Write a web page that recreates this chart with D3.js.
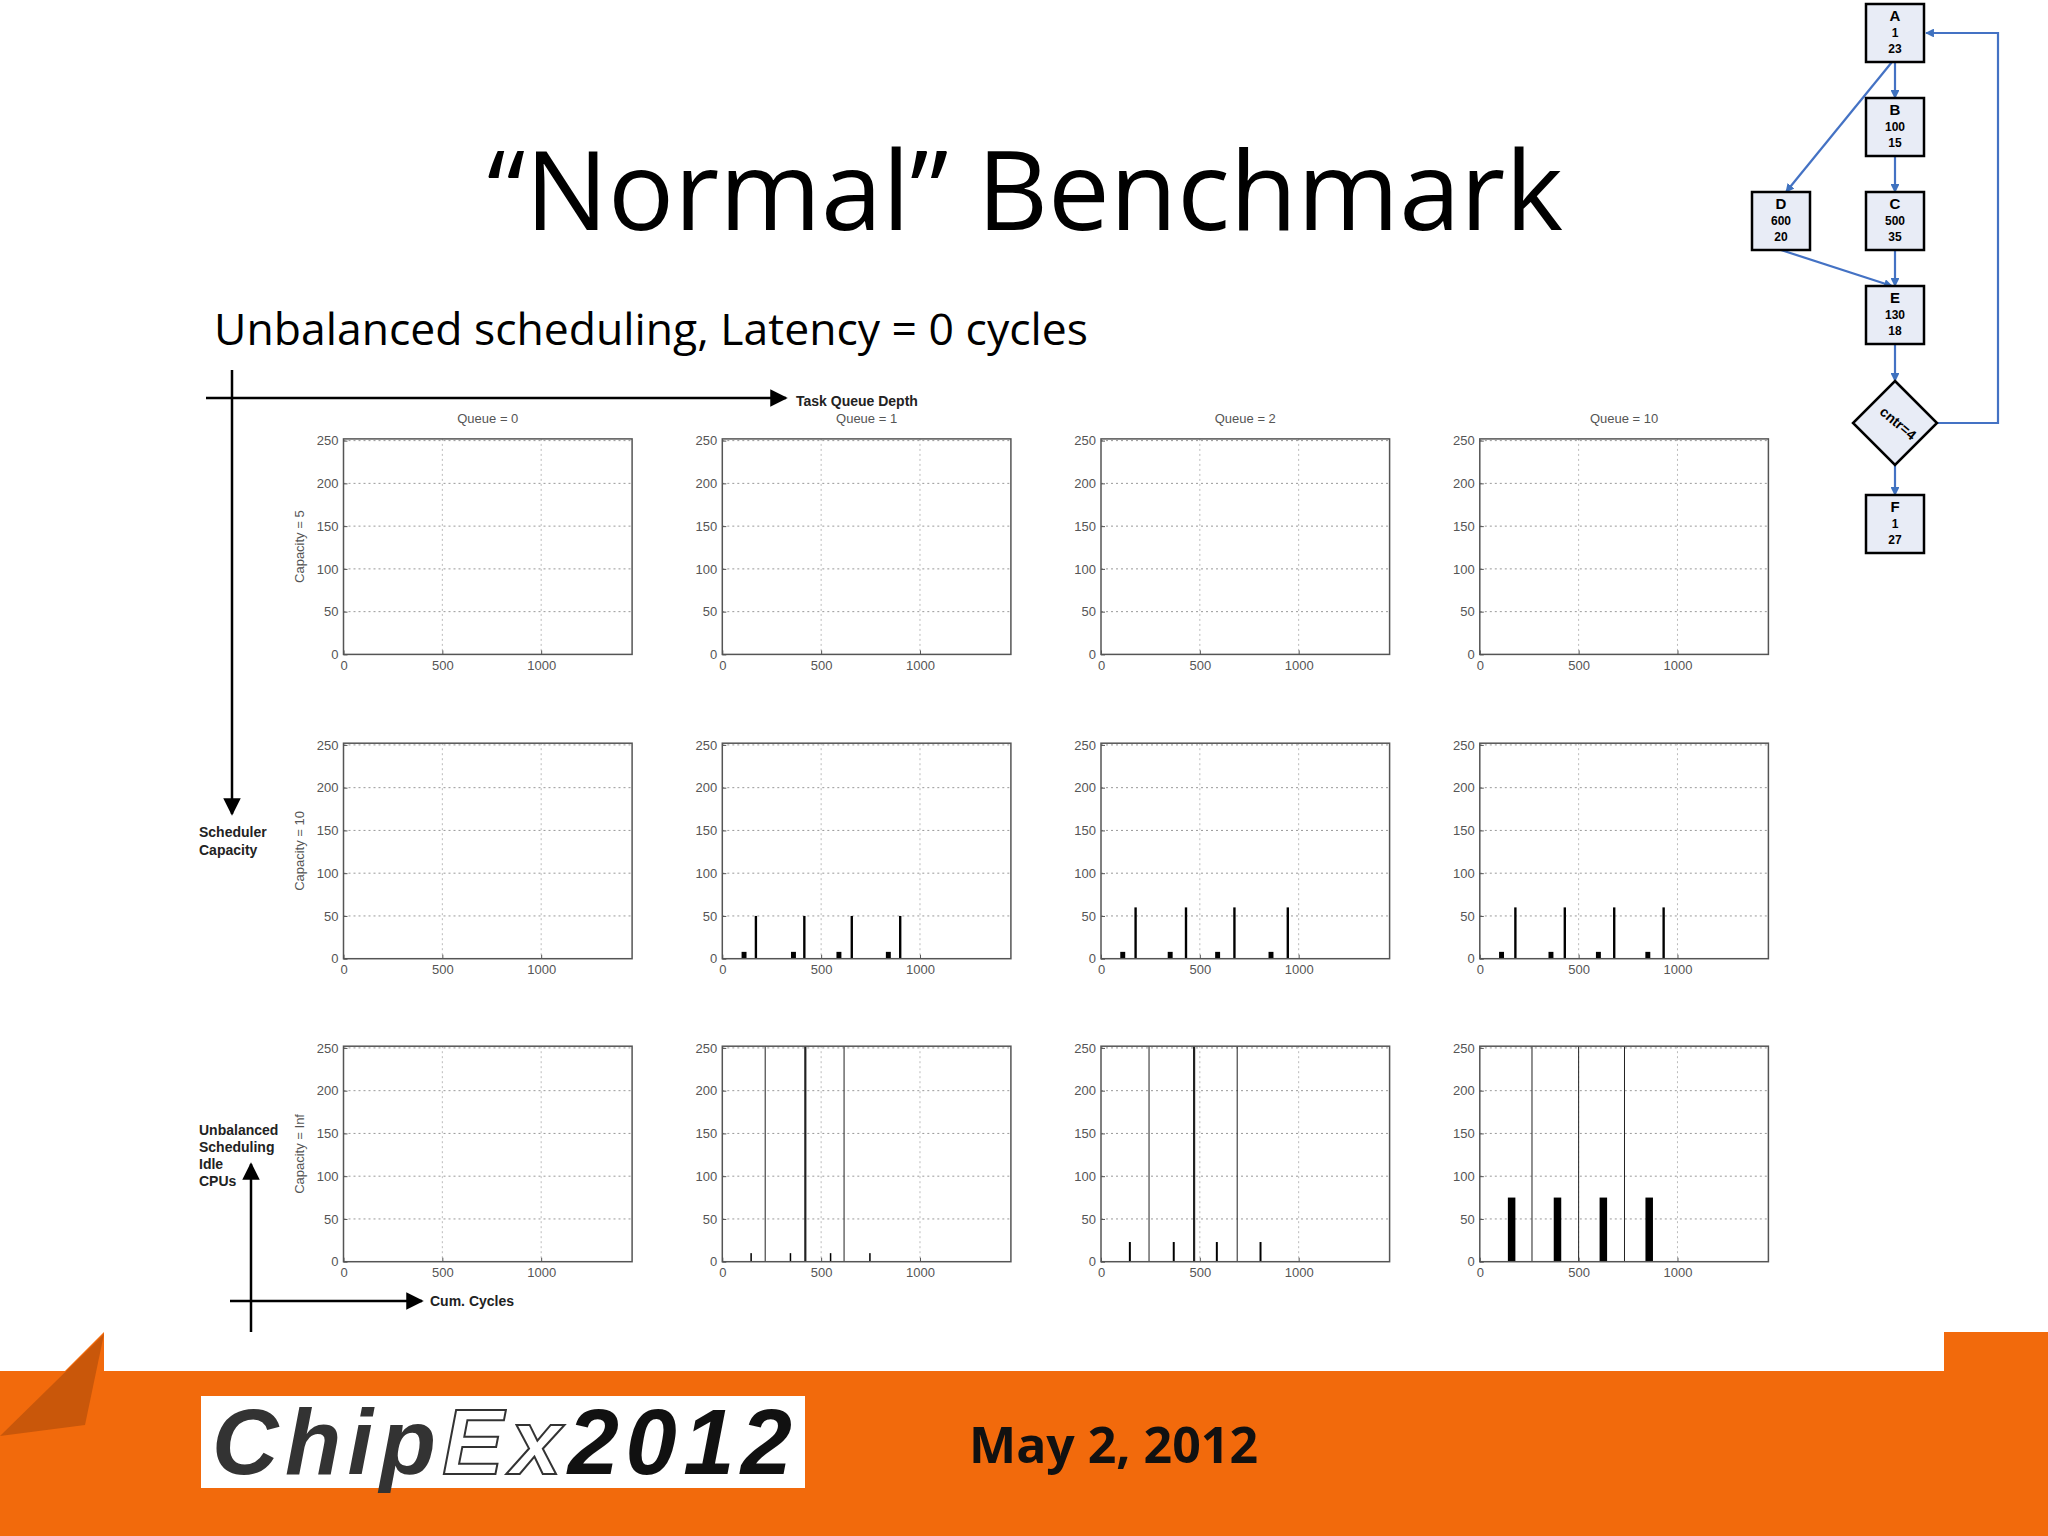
<!DOCTYPE html>
<html><head><meta charset="utf-8">
<script src="https://cdn.jsdelivr.net/npm/d3@7"></script>
<style>body{margin:0;background:#fff}svg{display:block}</style>
</head><body>
<svg id="c" width="2048" height="1536"></svg>
<script>
const queueLabels = ["Queue = 0","Queue = 1","Queue = 2","Queue = 10"];
const capacityLabels = ["Capacity = 5","Capacity = 10","Capacity = Inf"];
const xTicks = [0,500,1000];
const yTicks = [0,50,100,150,200,250];
// spikes: [x, height, width] per panel (row, col)
const cap10q1 = [[110,8,25],[170,50,12],[360,8,25],[415,50,12],[590,8,25],[655,50,12],[840,8,25],[900,50,12]];
const cap10q2 = [[110,8,25],[175,60,12],[350,8,25],[430,60,12],[590,8,25],[675,60,12],[860,8,25],[945,60,12]];
const cap10q10 = [[110,8,25],[180,60,12],[360,8,25],[430,60,12],[600,8,25],[680,60,12],[850,8,25],[930,60,12]];
const infq1 = [[145,10,6],[344,10,6],[547,10,6],[746,10,6]];
const infq2 = [[146,23,10],[368,23,10],[586,23,10],[807,23,10]];
const infq10 = [[161,75,38],[393,75,38],[625,75,38],[857,75,38]];
const infq1Lines = [[217,1],[420,2.2],[616,1]];
const infq2Lines = [[243,1],[471,2.2],[689,1]];
const infq10Lines = [[264,1],[500,1],[732,1]];
const panelSpikes = [[[],[],[],[]],[[],cap10q1,cap10q2,cap10q10],[[],infq1,infq2,infq10]];
const panelLines = [[[],[],[],[]],[[],[],[],[]],[[],infq1Lines,infq2Lines,infq10Lines]];
const flowNodes = [["A","1","23"],["B","100","15"],["C","500","35"],["D","600","20"],["E","130","18"],["F","1","27"]];

const svg = d3.select("#c");

// footer
svg.append("rect").attr("x",0).attr("y",1371).attr("width",2048).attr("height",165).attr("fill","#f26a0c");
svg.append("rect").attr("x",1944).attr("y",1332).attr("width",104).attr("height",40).attr("fill","#f26a0c");
svg.append("path").attr("d","M0,1436 L104,1332 L104,1371 Z").attr("fill","#f26a0c");
svg.append("path").attr("d","M0,1436 L85,1425 L104,1334 Z").attr("fill","#c9570a");
// logo
svg.append("rect").attr("x",201).attr("y",1396).attr("width",604).attr("height",92).attr("fill","#fff");
const lg = svg.append("text").attr("x",212).attr("y",1474).attr("font-family","Liberation Sans, Arial").attr("font-weight","bold").attr("font-style","italic").attr("font-size",92).attr("textLength",580);
lg.append("tspan").attr("fill","#333").text("Chip");
lg.append("tspan").attr("fill","#fff").attr("stroke","#333").attr("stroke-width",2).text("Ex");
lg.append("tspan").attr("fill","#111").text("2012");
svg.append("text").attr("x",969).attr("y",1463).attr("font-family","Open Sans, Lato, sans-serif").attr("font-weight","bold").attr("font-size",50).attr("fill","#111").text("May 2, 2012");

// title
svg.append("text").attr("x",1025).attr("y",230).attr("text-anchor","middle").attr("font-family","Open Sans, Lato, sans-serif").attr("font-size",110).attr("fill","#000").text("\u201CNormal\u201D Benchmark");
svg.append("text").attr("x",214).attr("y",345).attr("font-family","Open Sans, Lato, sans-serif").attr("font-size",44.5).attr("fill","#000").text("Unbalanced scheduling, Latency = 0 cycles");

// panels
const colX = [343.5,722.3,1101,1479.8], rowY = [438.9,743.2,1046.2];
const W = 288.6, H = 215.5;
const x = d3.scaleLinear().domain([0,1460]).range([0,W]);
const y = d3.scaleLinear().domain([0,252]).range([H,0]);
const tickFont = "Liberation Sans, Arial";
rowY.forEach((ry,r)=>colX.forEach((cx,c)=>{
  const g = svg.append("g").attr("transform",`translate(${cx},${ry})`);
  g.append("rect").attr("width",W).attr("height",H).attr("fill","#fff");
  g.selectAll(".gy").data(yTicks.slice(1)).join("line").attr("x1",0).attr("x2",W).attr("y1",d=>y(d)).attr("y2",d=>y(d)).attr("stroke","#999").attr("stroke-dasharray","2,3");
  g.selectAll(".gx").data(xTicks.slice(1)).join("line").attr("y1",0).attr("y2",H).attr("x1",d=>x(d)).attr("x2",d=>x(d)).attr("stroke","#bbb").attr("stroke-dasharray","2,3");
  g.selectAll(".ln").data(panelLines[r][c]).join("line").attr("x1",d=>x(d[0])).attr("x2",d=>x(d[0])).attr("y1",0).attr("y2",H).attr("stroke","#222").attr("stroke-width",d=>d[1]);
  g.selectAll(".sp").data(panelSpikes[r][c]).join("rect").attr("x",d=>x(d[0]-d[2]/2)).attr("width",d=>Math.max(1.5,x(d[2]))).attr("y",d=>y(d[1])).attr("height",d=>H-y(d[1])).attr("fill","#000");
  g.append("rect").attr("width",W).attr("height",H).attr("fill","none").attr("stroke","#555").attr("stroke-width",1.5);
  const ax = g.append("g").attr("transform",`translate(0,${H})`).call(d3.axisBottom(x).tickValues(xTicks).tickFormat(d3.format("d")).tickSize(-4).tickPadding(6));
  const ay = g.append("g").call(d3.axisLeft(y).tickValues(yTicks).tickSize(-4).tickPadding(5));
  [ax,ay].forEach(a=>{a.select(".domain").remove();a.selectAll("line").attr("stroke","#555");a.selectAll("text").attr("font-family",tickFont).attr("font-size",13).attr("fill","#555");});
  if(r===0) g.append("text").attr("x",W/2).attr("y",-16).attr("text-anchor","middle").attr("font-family",tickFont).attr("font-size",13).attr("fill","#555").text(queueLabels[c]);
  if(c===0) g.append("text").attr("transform",`translate(-40,${H/2}) rotate(-90)`).attr("text-anchor","middle").attr("font-family",tickFont).attr("font-size",13).attr("fill","#555").text(capacityLabels[r]);
}));

// annotation arrows
svg.append("defs").append("marker").attr("id","ah").attr("viewBox","0 0 10 10").attr("refX",9).attr("refY",5).attr("markerWidth",7).attr("markerHeight",7).attr("orient","auto").append("path").attr("d","M0,0 L10,5 L0,10 Z").attr("fill","#000");
svg.append("defs").append("marker").attr("id","ahb").attr("viewBox","0 0 10 10").attr("refX",9).attr("refY",5).attr("markerWidth",4).attr("markerHeight",4).attr("orient","auto").append("path").attr("d","M0,0 L10,5 L0,10 Z").attr("fill","#3f72bf");
const arr=(x1,y1,x2,y2)=>svg.append("line").attr("x1",x1).attr("y1",y1).attr("x2",x2).attr("y2",y2).attr("stroke","#000").attr("stroke-width",2.5).attr("marker-end","url(#ah)");
arr(206,398,786,398); arr(232,370,232,814); arr(251,1332,251,1164); arr(230,1301,422,1301);
const lab=(t,x0,y0)=>svg.append("text").attr("x",x0).attr("y",y0).attr("font-family",tickFont).attr("font-weight","bold").attr("font-size",14).attr("fill","#222").text(t);
lab("Task Queue Depth",796,406); lab("Scheduler",199,837); lab("Capacity",199,855);
lab("Unbalanced",199,1135); lab("Scheduling",199,1152); lab("Idle",199,1169); lab("CPUs",199,1186); lab("Cum. Cycles",430,1306);

// flowchart
const bw=58, pos={A:[1895,33],B:[1895,127],C:[1895,221],D:[1781,221],E:[1895,315],F:[1895,524]};
const blue="#4472c4";
const fl=(pts)=>svg.append("path").attr("d",d3.line()(pts)).attr("fill","none").attr("stroke",blue).attr("stroke-width",2.2).attr("marker-end","url(#ahb)");
fl([[1895,62],[1895,98]]); fl([[1895,156],[1895,192]]); fl([[1895,250],[1895,286]]);
fl([[1892,62],[1786,192]]); fl([[1781,250],[1892,286]]);
fl([[1895,344],[1895,381]]); fl([[1895,465],[1895,495]]);
fl([[1937,423],[1998,423],[1998,33],[1926,33]]);
flowNodes.forEach(n=>{
  const [cx,cy]=pos[n[0]];
  svg.append("rect").attr("x",cx-bw/2).attr("y",cy-bw/2).attr("width",bw).attr("height",bw).attr("fill","#e8ecf6").attr("stroke","#000").attr("stroke-width",2.5);
  n.forEach((t,i)=>svg.append("text").attr("x",cx).attr("y",cy-12+i*16).attr("text-anchor","middle").attr("font-family",tickFont).attr("font-weight","bold").attr("font-size",i===0?15:12).attr("fill","#000").text(t));
});
svg.append("path").attr("d","M1895,381 L1937,423 L1895,465 L1853,423 Z").attr("fill","#e8ecf6").attr("stroke","#000").attr("stroke-width",2.5);
svg.append("text").attr("transform","translate(1895,427) rotate(40)").attr("text-anchor","middle").attr("font-family",tickFont).attr("font-weight","bold").attr("font-size",14).text("cntr=4");
</script>
</body></html>
